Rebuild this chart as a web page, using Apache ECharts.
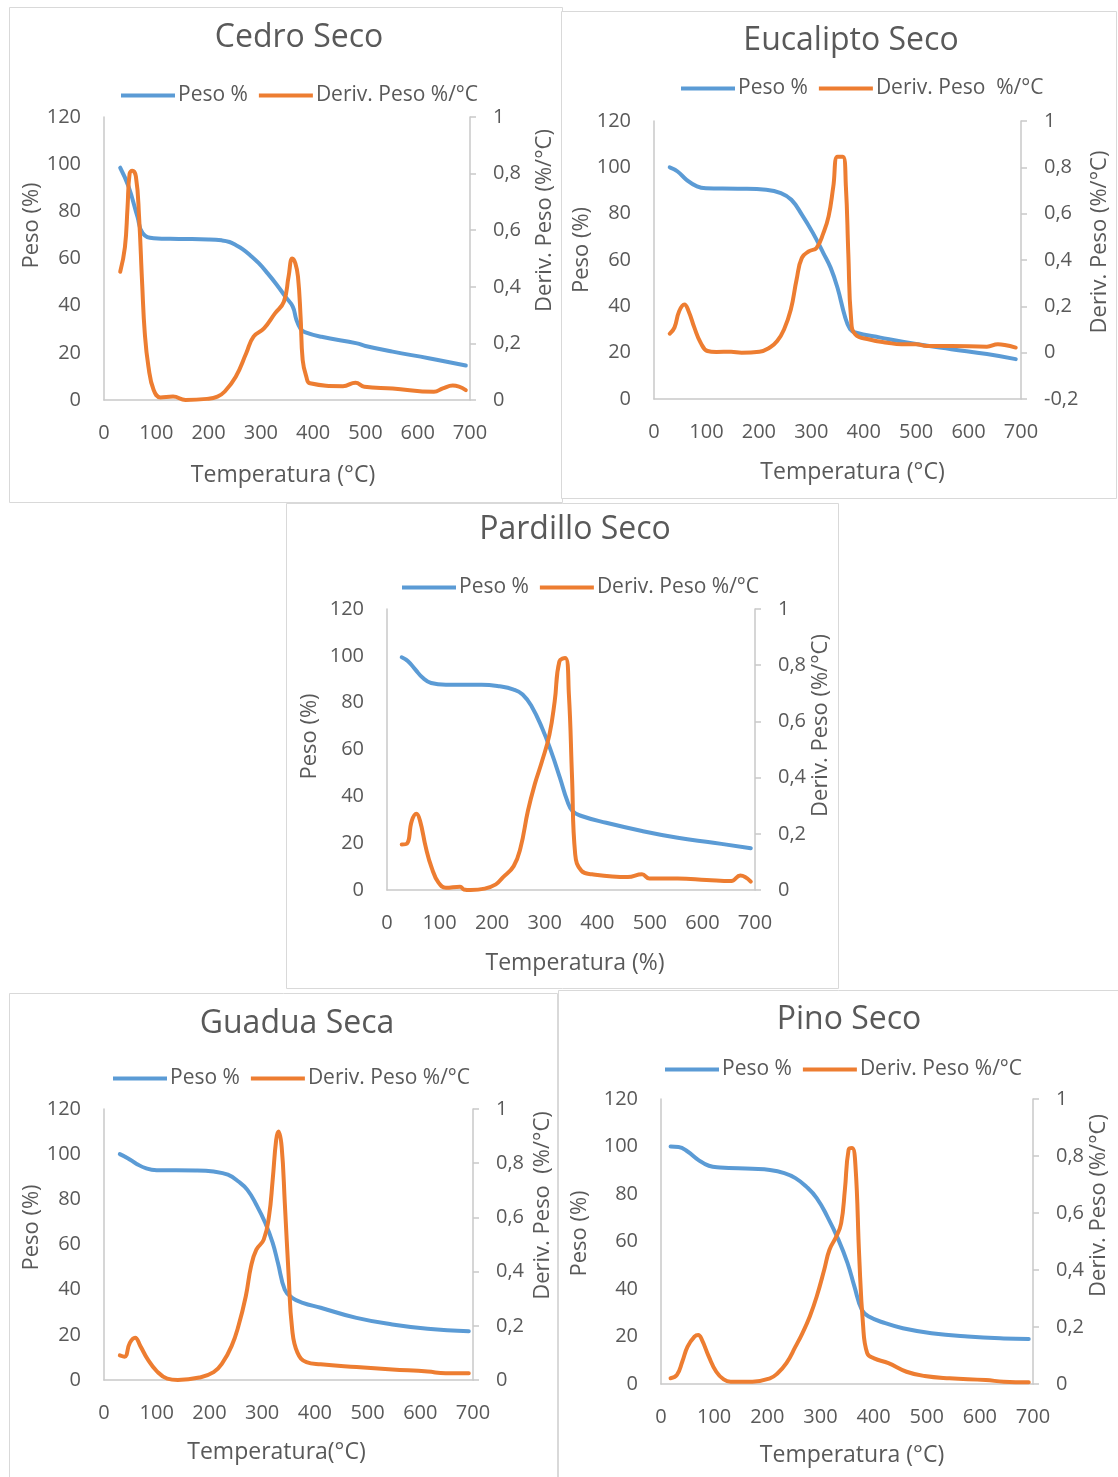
<!DOCTYPE html>
<html><head><meta charset="utf-8">
<script src="https://cdn.jsdelivr.net/npm/echarts@6/dist/echarts.min.js"></script>
<style>html,body{margin:0;padding:0;background:#fff}#c{width:1118px;height:1477px}</style>
</head><body><div id="c"></div>
<script>
// ---- data: [Temperatura °C, value] ----
const xTicks = [0,100,200,300,400,500,600,700];
const legendNames = ['Peso %','Deriv. Peso %/°C'];

const cedroPeso = [[31,98.5],[47,90.5],[64,77.7],[74,70.7],[95,68.6],[143,68.3],[200,68.1],[225,67.7],[240,67],[252,65.7],[265,64],[279,61.5],[296,58],[313,53.7],[330,49],[347,43.8],[361,39.6],[368,34],[376,30.2],[384,28.8],[416,26.8],[484,24],[500,22.9],[552,20.5],[621,17.7],[692,14.6]];
const cedroDeriv = [[31,0.453],[40,0.54],[45,0.68],[49,0.80],[54,0.81],[61,0.79],[67,0.65],[73,0.41],[78,0.236],[85,0.118],[95,0.035],[108,0.009],[132,0.012],[156,0],[197,0.004],[217,0.012],[231,0.03],[252,0.082],[272,0.165],[286,0.224],[306,0.253],[327,0.306],[344,0.347],[353,0.436],[360,0.50],[366,0.483],[371,0.436],[376,0.294],[380,0.141],[387,0.082],[394,0.059],[457,0.049],[481,0.061],[498,0.047],[552,0.041],[631,0.029],[648,0.041],[667,0.051],[692,0.035]];

const eucaPeso = [[30,100],[45,98.2],[62,94.6],[82,91.8],[99,91],[160,90.8],[214,90.3],[242,88.9],[262,86],[282,79.6],[303,71.7],[323,63],[337,56.6],[350,48],[364,35.8],[374,30.1],[384,28.7],[432,26.5],[500,23.7],[567,21.5],[635,19.4],[690,17.2]];
const eucaDeriv = [[30,0.082],[39,0.108],[48,0.179],[58,0.208],[66,0.179],[77,0.108],[89,0.043],[102,0.007],[119,0.003],[147,0.004],[167,0],[201,0.004],[221,0.022],[235,0.05],[248,0.1],[261,0.186],[272,0.316],[282,0.409],[296,0.438],[310,0.452],[323,0.516],[333,0.588],[342,0.717],[350,0.846],[360,0.846],[366,0.717],[370.6,0.43],[376,0.143],[384,0.079],[411,0.057],[445,0.043],[472,0.036],[500,0.036],[520,0.029],[567,0.029],[635,0.026],[656,0.036],[669,0.033],[690,0.022]];

const pardPeso = [[28,99.4],[40,97.7],[54,94.1],[68,90.6],[84,88.4],[112,87.7],[180,87.7],[214,87],[241,85.6],[258,83.5],[275,78.5],[295,69.2],[312,59.3],[329,47.9],[343,38],[353,33.7],[370,31.6],[417,28.7],[485,25.2],[553,22.3],[621,20.2],[692,17.8]];
const pardDeriv = [[28,0.162],[38,0.165],[47,0.245],[56,0.271],[63,0.245],[74,0.150],[85,0.079],[98,0.026],[112,0.008],[139,0.012],[146,0.002],[159,0],[186,0.005],[207,0.02],[220,0.044],[241,0.085],[254,0.15],[268,0.281],[281,0.376],[295,0.459],[309,0.553],[319,0.672],[328,0.814],[339,0.826],[346,0.695],[352,0.40],[358,0.127],[370,0.068],[390,0.056],[458,0.046],[485,0.056],[499,0.041],[553,0.041],[608,0.036],[655,0.032],[672,0.052],[692,0.03]];

const guadPeso = [[30,100],[45,98.2],[62,95.7],[79,93.8],[100,92.9],[174,92.8],[208,92.3],[235,90.9],[255,87.9],[272,84.2],[289,77.6],[306,69.5],[320,60.7],[330,51.8],[343,40],[357,36.4],[377,34.2],[411,32],[479,27.5],[547,24.6],[614,22.7],[692,21.6]];
const guadDeriv = [[30,0.091],[39,0.086],[49,0.137],[59,0.156],[69,0.125],[83,0.076],[100,0.033],[120,0.005],[140,0],[181,0.009],[208,0.029],[225,0.064],[242,0.125],[255,0.199],[269,0.309],[279,0.42],[289,0.481],[303,0.518],[313,0.604],[320,0.739],[326.6,0.886],[331,0.917],[337,0.861],[343,0.653],[350,0.395],[357,0.186],[367,0.101],[384,0.066],[411,0.058],[479,0.048],[547,0.039],[614,0.031],[648,0.025],[692,0.025]];

const pinoPeso = [[18,100],[33,99.8],[50,97.9],[70,94.4],[90,91.9],[111,91.2],[172,90.6],[205,90.1],[232,88.8],[253,86.7],[273,83.2],[293,78.3],[313,70.5],[334,60.7],[351,50.9],[364,41],[378,31.2],[391,28.4],[422,25.6],[455,23.5],[509,21.4],[577,20],[645,19.2],[692,19]];
const pinoDeriv = [[18,0.02],[30,0.032],[40,0.078],[50,0.131],[63,0.166],[70,0.172],[77,0.155],[90,0.096],[104,0.043],[118,0.016],[131,0.008],[172,0.008],[205,0.02],[219,0.037],[236,0.073],[253,0.131],[266,0.178],[280,0.237],[293,0.307],[307,0.40],[317,0.471],[330,0.518],[339,0.564],[346,0.681],[353,0.822],[359.5,0.828],[366,0.763],[373,0.447],[380,0.213],[388,0.108],[401,0.09],[428,0.073],[462,0.043],[496,0.028],[543,0.02],[611,0.014],[645,0.008],[692,0.006]];

// ---- layout ----
const TXT = '#595959', AX = '#C9C9C9', BLUE = '#5B9BD5', ORANGE = '#ED7D31';
const FONT = '"Open Sans", sans-serif';
const panels = [
  {title:'Cedro Seco', box:[9,7,553,495], grid:[104,117,366,283], tc:[299,36], lg:[121,94], xName:'Temperatura (°C)', xGap:64, xShift:-4, lGap:60, lShift:33, rName:'Deriv. Peso (%/°C)', rGap:64, rShift:38, rMin:0, peso:cedroPeso, deriv:cedroDeriv, dName:legendNames[1]},
  {title:'Eucalipto Seco', box:[561,11,555,487], grid:[654,121,367,278], tc:[851,39], lg:[681,87], xName:'Temperatura (°C)', xGap:62, xShift:15, lGap:58, lShift:10, rName:'Deriv. Peso (%/°C)', rGap:68, rShift:18, rMin:-0.2, peso:eucaPeso, deriv:eucaDeriv, dName:'Deriv. Peso  %/°C'},
  {title:'Pardillo Seco', box:[286,503,552,485], grid:[387,609,368,281], tc:[575,528], lg:[402,586], xName:'Temperatura (%)', xGap:62, xShift:4, lGap:66, lShift:13, rName:'Deriv. Peso (%/°C)', rGap:54, rShift:24, rMin:0, peso:pardPeso, deriv:pardDeriv, dName:legendNames[1]},
  {title:'Guadua Seca', box:[9,993,548,490], grid:[104,1109,369,271], tc:[297,1022], lg:[113,1077], xName:'Temperatura(°C)', xGap:61, xShift:-12, lGap:60, lShift:17, rName:'Deriv. Peso  (%/°C)', rGap:59, rShift:39, rMin:0, peso:guadPeso, deriv:guadDeriv, dName:legendNames[1]},
  {title:'Pino Seco', box:[558,990,565,495], grid:[661,1099,372,285], tc:[849,1018], lg:[665,1068], xName:'Temperatura (°C)', xGap:60, xShift:5, lGap:70, lShift:8, rName:'Deriv. Peso (%/°C)', rGap:54, rShift:36, rMin:0, peso:pinoPeso, deriv:pinoDeriv, dName:legendNames[1]}
];

function shiftPad(s){ return s >= 0 ? [0,0,0,2*s] : [0,-2*s,0,0]; }
const fmt = v => String(Math.round(v*10)/10).replace('.', ',');

const option = {
  backgroundColor:'#fff', animation:false,
  textStyle:{fontFamily:FONT, color:TXT},
  title:[], legend:[], grid:[], xAxis:[], yAxis:[], series:[],
  graphic:[]
};

panels.forEach((p, i) => {
  option.graphic.push({type:'rect', z:-1, shape:{x:p.box[0]+0.5, y:p.box[1]+0.5, width:p.box[2], height:p.box[3]}, style:{fill:'#fff', stroke:'#D9D9D9', lineWidth:1}});
  option.title.push({text:p.title, left:p.tc[0], top:p.tc[1]-14, textAlign:'center', padding:0, textStyle:{fontFamily:FONT, fontSize:32, fontWeight:'normal', color:TXT}});
  option.legend.push({data:[{name:'Peso %'},{name:p.dName}], left:p.lg[0], top:p.lg[1]-9, padding:0, icon:'rect', itemWidth:54, itemHeight:4, itemGap:11, selectedMode:false, textStyle:{fontFamily:FONT, fontSize:21, color:TXT, padding:[0,0,0,-2]}});
  option.grid.push({left:p.grid[0], top:p.grid[1], width:p.grid[2], height:p.grid[3], containLabel:false});
  option.xAxis.push({type:'value', gridIndex:i, min:0, max:700, interval:100, name:p.xName, nameLocation:'middle', nameGap:p.xGap,
    nameTextStyle:{fontFamily:FONT, fontSize:23, color:TXT, padding:shiftPad(p.xShift)},
    axisLine:{show:true, onZero:false, lineStyle:{color:AX, width:1.5}}, axisTick:{show:false}, splitLine:{show:false},
    axisLabel:{fontFamily:FONT, fontSize:20, color:TXT, margin:23, showMinLabel:true, showMaxLabel:true}});
  option.yAxis.push({type:'value', gridIndex:i, position:'left', min:0, max:120, interval:20, name:'Peso (%)', nameLocation:'middle', nameGap:p.lGap,
    nameTextStyle:{fontFamily:FONT, fontSize:22, color:TXT, padding:shiftPad(p.lShift)},
    axisLine:{show:true, lineStyle:{color:AX, width:1.5}}, axisTick:{show:false}, splitLine:{show:false},
    axisLabel:{fontFamily:FONT, fontSize:20, color:TXT, margin:23}});
  option.yAxis.push({type:'value', gridIndex:i, position:'right', min:p.rMin, max:1, interval:0.2, name:p.rName, nameLocation:'middle', nameGap:p.rGap,
    nameTextStyle:{fontFamily:FONT, fontSize:22, color:TXT, padding:shiftPad(p.rShift)},
    axisLine:{show:true, lineStyle:{color:AX, width:1.5}}, axisTick:{show:true, inside:false, length:6, lineStyle:{color:AX, width:1.5}}, splitLine:{show:false},
    axisLabel:{fontFamily:FONT, fontSize:20, color:TXT, margin:23, formatter:fmt}});
  option.series.push({type:'line', name:'Peso %', xAxisIndex:i, yAxisIndex:2*i, data:p.peso, symbol:'none', smooth:0.45, lineStyle:{color:BLUE, width:4, cap:'round', join:'round'}, itemStyle:{color:BLUE}, z:2});
  option.series.push({type:'line', name:p.dName, xAxisIndex:i, yAxisIndex:2*i+1, data:p.deriv, symbol:'none', smooth:0.45, lineStyle:{color:ORANGE, width:4, cap:'round', join:'round'}, itemStyle:{color:ORANGE}, z:3});
});

const chart = echarts.init(document.getElementById('c'), null, {renderer:'canvas'});
chart.setOption(option);
</script></body></html>
